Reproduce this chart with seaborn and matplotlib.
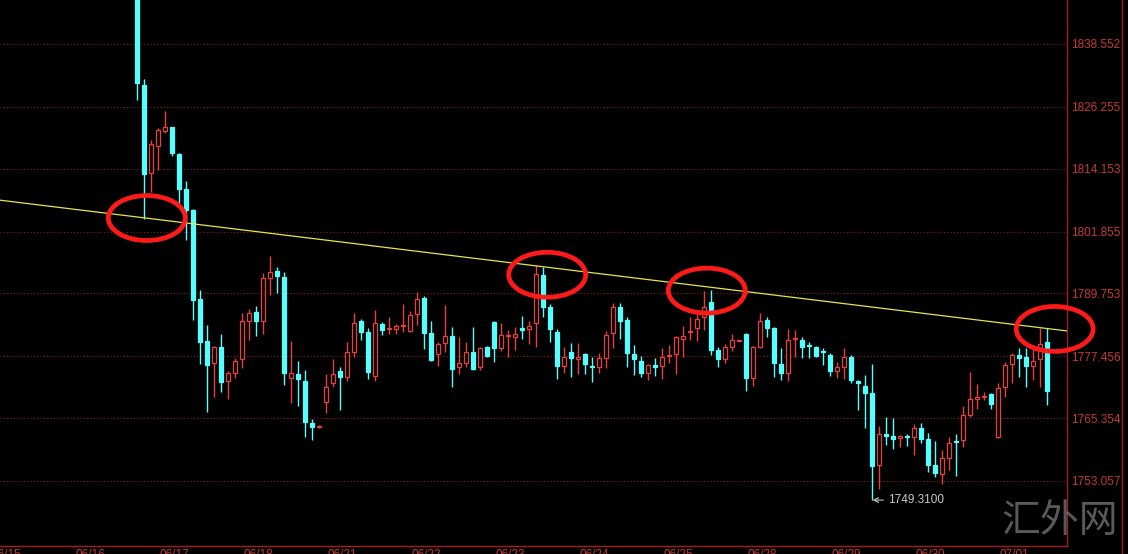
import matplotlib
matplotlib.use("Agg")
import matplotlib.pyplot as plt
import matplotlib.transforms as mtransforms
from matplotlib.patches import Ellipse
import seaborn as sns
import numpy as np

# 2-hour gold candles, 06/16 - 07/01
opens = [1851.0, 1830.5, 1813.3, 1818.6, 1821.5, 1822.3, 1817.0, 1810.2, 1806.1, 1788.7,
         1780.4, 1776.1, 1779.3, 1772.6, 1774.2, 1776.9, 1784.3, 1786.1, 1784.3, 1792.8,
         1794.1, 1793.0, 1773.2, 1774.0, 1772.6, 1764.4, 1763.6, 1768.5, 1772.2, 1774.6,
         1773.4, 1778.3, 1784.3, 1782.2, 1773.6, 1783.8, 1782.8, 1782.8, 1783.4, 1782.4,
         1785.7, 1788.9, 1782.0, 1777.9, 1780.1, 1781.4, 1775.4, 1776.1, 1778.3, 1775.4,
         1779.3, 1784.2, 1779.1, 1781.4, 1781.2, 1782.9, 1782.8, 1783.9, 1793.4, 1787.1,
         1782.2, 1775.6, 1778.3, 1776.9, 1777.9, 1775.6, 1775.4, 1777.1, 1782.0, 1787.1,
         1784.5, 1777.9, 1776.5, 1774.2, 1775.8, 1775.6, 1777.5, 1777.9, 1780.8, 1782.2,
         1782.9, 1785.1, 1788.1, 1778.7, 1776.9, 1779.3, 1780.5, 1781.8, 1773.2, 1779.3,
         1784.5, 1783.0, 1775.9, 1774.2, 1780.8, 1780.6, 1779.6, 1779.3, 1778.4, 1777.7,
         1774.6, 1775.4, 1777.3, 1772.6, 1771.6, 1770.3, 1756.2, 1762.2, 1761.9, 1761.5,
         1761.8, 1761.7, 1763.4, 1761.3, 1756.2, 1754.4, 1757.6, 1760.8, 1761.1, 1766.0,
         1769.1, 1769.5, 1770.1, 1761.7, 1771.4, 1775.9, 1777.7, 1777.3, 1775.6, 1776.9,
         1780.2]
highs = [1853.0, 1831.7, 1819.8, 1822.1, 1825.4, 1822.3, 1817.2, 1811.7, 1806.3, 1790.4,
         1783.6, 1779.5, 1781.8, 1774.6, 1777.1, 1785.9, 1786.7, 1787.3, 1793.7, 1797.1,
         1794.9, 1793.9, 1780.4, 1776.5, 1774.8, 1765.2, 1764.0, 1774.0, 1776.9, 1775.4,
         1780.2, 1785.9, 1784.7, 1783.0, 1786.5, 1784.2, 1785.1, 1783.8, 1787.7, 1786.3,
         1790.0, 1789.3, 1784.3, 1780.2, 1787.5, 1783.2, 1781.2, 1780.2, 1783.2, 1779.3,
         1779.5, 1784.3, 1783.9, 1782.6, 1783.2, 1785.3, 1784.3, 1795.3, 1794.9, 1787.7,
         1782.8, 1779.3, 1780.0, 1780.0, 1778.1, 1777.3, 1778.1, 1782.4, 1787.9, 1787.9,
         1785.1, 1779.7, 1777.5, 1775.9, 1777.1, 1779.1, 1779.7, 1781.4, 1783.4, 1785.1,
         1786.5, 1790.2, 1790.4, 1779.3, 1779.9, 1781.8, 1780.7, 1782.0, 1779.5, 1785.9,
         1785.1, 1783.2, 1779.1, 1782.8, 1782.6, 1781.2, 1780.2, 1779.5, 1779.1, 1778.1,
         1776.3, 1779.1, 1777.7, 1772.8, 1773.8, 1775.9, 1763.8, 1765.6, 1765.4, 1762.1,
         1762.2, 1764.2, 1764.4, 1762.4, 1760.9, 1759.1, 1761.7, 1762.2, 1767.7, 1774.4,
         1772.0, 1770.5, 1770.3, 1772.2, 1776.3, 1778.1, 1779.1, 1779.1, 1778.9, 1783.0,
         1783.0]
lows = [1827.6, 1804.3, 1809.6, 1813.9, 1821.1, 1816.6, 1807.4, 1800.2, 1784.6, 1775.9,
        1766.6, 1769.5, 1770.5, 1769.1, 1773.2, 1775.2, 1780.6, 1781.4, 1781.8, 1789.4,
        1789.8, 1771.8, 1768.3, 1767.7, 1761.7, 1761.1, 1763.4, 1766.4, 1771.4, 1766.9,
        1772.6, 1777.3, 1780.6, 1773.0, 1772.6, 1781.6, 1781.8, 1781.8, 1782.2, 1782.2,
        1783.6, 1778.9, 1776.5, 1775.5, 1778.3, 1771.4, 1774.0, 1775.4, 1774.8, 1774.8,
        1777.3, 1776.3, 1778.5, 1777.3, 1778.7, 1780.8, 1779.9, 1779.3, 1785.2, 1780.2,
        1773.0, 1774.2, 1773.4, 1774.0, 1774.0, 1772.4, 1774.2, 1775.2, 1779.1, 1780.8,
        1775.4, 1773.8, 1773.4, 1772.8, 1773.6, 1773.0, 1776.1, 1774.0, 1777.3, 1780.6,
        1780.4, 1782.6, 1777.7, 1775.4, 1776.1, 1778.5, 1780.4, 1770.7, 1771.6, 1779.1,
        1781.2, 1773.4, 1772.8, 1772.6, 1777.3, 1777.1, 1777.1, 1777.3, 1775.8, 1773.6,
        1773.2, 1773.0, 1772.2, 1766.9, 1763.4, 1749.31, 1751.5, 1760.1, 1759.3, 1759.7,
        1759.9, 1758.1, 1760.5, 1754.8, 1753.8, 1752.5, 1755.2, 1754.0, 1759.7, 1765.6,
        1767.1, 1768.9, 1767.1, 1761.5, 1769.5, 1772.2, 1773.4, 1771.4, 1772.8, 1771.4,
        1767.9]
closes = [1830.9, 1813.1, 1819.0, 1821.7, 1822.3, 1817.2, 1810.2, 1806.1, 1788.5, 1780.3,
          1775.7, 1779.3, 1772.4, 1774.2, 1776.5, 1784.3, 1785.9, 1784.3, 1792.8, 1793.9,
          1793.2, 1774.2, 1774.2, 1773.0, 1764.6, 1763.6, 1763.8, 1771.4, 1774.0, 1773.4,
          1778.3, 1783.9, 1782.2, 1774.4, 1783.9, 1782.6, 1783.0, 1783.4, 1783.6, 1785.5,
          1788.7, 1782.0, 1776.7, 1779.9, 1781.4, 1775.0, 1776.1, 1778.3, 1775.0, 1779.1,
          1777.5, 1779.1, 1781.6, 1781.6, 1781.8, 1782.6, 1783.4, 1793.6, 1787.1, 1782.8,
          1775.6, 1777.3, 1777.1, 1777.3, 1775.9, 1775.4, 1777.1, 1781.6, 1787.1, 1784.3,
          1778.1, 1776.9, 1774.2, 1775.8, 1775.4, 1777.3, 1777.7, 1781.2, 1781.4, 1782.4,
          1784.7, 1787.1, 1778.7, 1776.9, 1779.3, 1780.6, 1780.6, 1773.2, 1779.3, 1784.3,
          1783.0, 1776.1, 1774.2, 1780.6, 1781.0, 1779.3, 1779.4, 1777.5, 1778.2, 1774.6,
          1775.4, 1777.3, 1772.8, 1772.2, 1770.3, 1756.0, 1762.2, 1761.9, 1761.3, 1761.9,
          1761.6, 1763.4, 1761.3, 1756.2, 1754.6, 1757.6, 1760.5, 1760.6, 1766.0, 1769.1,
          1769.5, 1769.7, 1768.1, 1771.2, 1775.8, 1777.7, 1777.1, 1775.6, 1776.5, 1779.9,
          1770.7]

# date labels and the candle index where each day starts
day_labels = ["06/15", "06/16", "06/17", "06/18", "06/21", "06/22", "06/23",
              "06/24", "06/25", "06/28", "06/29", "06/30", "07/01"]
day_start = [-21, -9, 3, 15, 27, 39, 51, 63, 75, 87, 99, 111, 123]

# right axis price levels
price_ticks = [1838.552, 1826.255, 1814.153, 1801.855, 1789.753, 1777.456, 1765.354, 1753.057]
price_labels = ["1838.552", "1826.255", "1814.153", "1801.855",
                "1789.753", "1777.456", "1765.354", "1753.057"]

# hand drawn resistance line and marked touches
trend_x = [-19.6, 132.9]
trend_y = [1808.0, 1782.4]
touch_x = [1.4, 58.6, 81.4, 131.1]
touch_y = [1804.5, 1793.4, 1790.3, 1782.8]
low_label = "1749.3100"

UP = "#e8403c"
DOWN = "#54ffff"
AXIS_RED = "#a01e1e"
TEXT_RED = "#c83737"

sns.set_style("dark", {"axes.facecolor": "black", "figure.facecolor": "black"})
plt.rcParams["font.family"] = ["Liberation Sans", "DejaVu Sans"]

fig = plt.figure(figsize=(11.28, 5.54), dpi=100)
ax = fig.add_axes([0, 8 / 554, 1067 / 1128, 546 / 554])
ax.set_facecolor("black")

# grid
for p in price_ticks:
    ax.axhline(p, color="#8b1a1a", lw=0.8, ls=(0, (1, 2)), zorder=0)

# candles
idx = np.arange(len(opens))
o = np.array(opens)
c = np.array(closes)
up = c >= o
colors = np.where(up, UP, DOWN)
ax.vlines(idx, lows, highs, colors=colors, lw=1, zorder=2)
body_bottom = np.minimum(o, c)
body_height = np.maximum(np.abs(c - o), 0.2)
ax.bar(idx[up], body_height[up], bottom=body_bottom[up], width=0.6,
       facecolor="black", edgecolor=UP, lw=0.9, zorder=3)
ax.bar(idx[~up], body_height[~up], bottom=body_bottom[~up], width=0.6,
       facecolor=DOWN, edgecolor=DOWN, lw=0.9, zorder=3)

# trend line
ax.plot(trend_x, trend_y, color="#e6e64a", lw=0.9, zorder=4)

# red circles
for x, y in zip(touch_x, touch_y):
    ax.add_patch(Ellipse((x, y), 11.0, 8.8, fill=False, edgecolor="#ff1a1a",
                         lw=3.4, zorder=5, clip_on=False))

# lowest point marker
low_i = int(np.argmin(lows))
ax.annotate(low_label, xy=(low_i + 0.1, lows[low_i]), xytext=(11, 0),
            textcoords="offset points", va="center", ha="left",
            color="#c8c8c8", fontsize=8.5,
            arrowprops=dict(arrowstyle="->", color="#c8c8c8", lw=0.8,
                            shrinkA=1, shrinkB=0))

ax.set_xlim(-19.57, 132.86)
ax.set_ylim(1740.33, 1847.16)

# axes styling
for side in ["top", "left"]:
    ax.spines[side].set_visible(False)
for side in ["right", "bottom"]:
    ax.spines[side].set_visible(True)
    ax.spines[side].set_color(AXIS_RED)
    ax.spines[side].set_linewidth(1)
ax.grid(False)

ax.yaxis.tick_right()
ax.set_yticks(price_ticks)
ax.set_yticklabels(price_labels)
ax.tick_params(axis="y", length=0, pad=3, labelsize=8.5, labelcolor=TEXT_RED)

ax.set_xticks([d for d in day_start if d > -19.5])
ax.set_xticklabels([])
ax.tick_params(axis="x", length=3, direction="out", color=AXIS_RED)

label_tr = mtransforms.offset_copy(ax.get_xaxis_transform(), fig=fig, x=2, y=-3, units="dots")
for d, lab in zip(day_start, day_labels):
    ax.text(d, 0, lab, transform=label_tr, ha="left", va="top",
            color=TEXT_RED, fontsize=8.5, clip_on=False)

# outer right border
fig.add_artist(plt.Line2D([1122 / 1128, 1122 / 1128], [0, 1], transform=fig.transFigure,
                          color=AXIS_RED, lw=1))

# watermark
fig.text(1060 / 1128, 1 - 521 / 554, "汇外网", ha="center", va="center",
         fontsize=28, color="#707070", alpha=0.8,
         family=["Noto Sans CJK SC", "DejaVu Sans"])

fig.savefig("out.png", dpi=100, facecolor="black")
